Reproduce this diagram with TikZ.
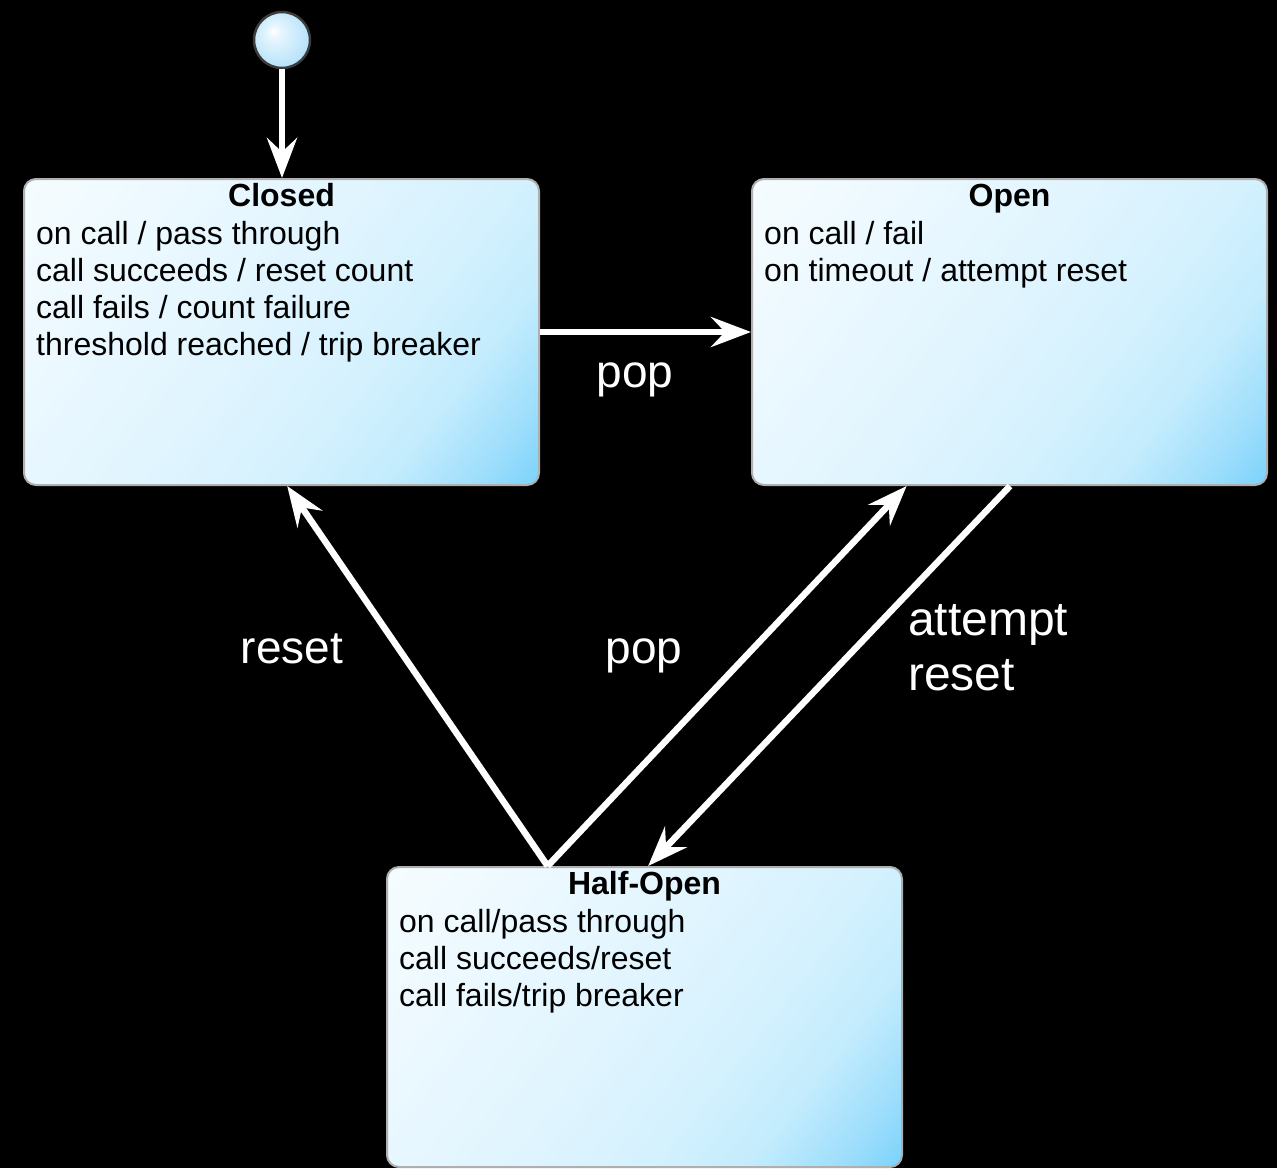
\documentclass[tikz,border=0pt]{standalone}
\usepackage{fontspec}
\setmainfont{Liberation Sans}
\usetikzlibrary{arrows.meta,calc}
\definecolor{boxlight}{RGB}{246,252,255}
\definecolor{boxpale}{RGB}{234,248,255}
\definecolor{boxsoft}{RGB}{222,244,254}
\definecolor{boxmid}{RGB}{212,241,254}
\definecolor{boxrich}{RGB}{195,236,253}
\definecolor{boxstrong}{RGB}{158,222,252}
\definecolor{boxdeep}{RGB}{122,210,251}
\definecolor{boxedge}{RGB}{175,175,175}
\definecolor{dotedge}{RGB}{60,60,60}
\definecolor{dotlight}{RGB}{228,245,254}
\definecolor{dotdeep}{RGB}{178,225,250}
% diagonal fill of the state boxes: pale in the upper left, deep blue in the lower right
\pgfdeclareverticalshading{statefill}{100bp}{
  color(0bp)=(boxdeep); color(14.9bp)=(boxdeep); color(21bp)=(boxstrong);
  color(29.4bp)=(boxrich); color(39.1bp)=(boxmid); color(50bp)=(boxsoft);
  color(67bp)=(boxpale); color(85.1bp)=(boxlight); color(100bp)=(boxlight)}
% glossy fill of the initial pseudo-state, highlight in the upper left
\pgfdeclareradialshading{dotfill}{\pgfpoint{-8bp}{8bp}}{
  color(0bp)=(white); color(7bp)=(dotlight); color(30bp)=(dotdeep);
  color(50bp)=(dotdeep)}
\begin{document}
\begin{tikzpicture}[x=1pt,y=-1pt,
  state/.style={rounded corners=12pt, draw=boxedge, line width=2pt,
    shading=statefill, shading angle=52, minimum width=515pt, inner sep=0pt},
  statetitle/.style={font=\fontsize{32}{37}\selectfont\bfseries, anchor=base, inner sep=0pt},
  statebody/.style={font=\fontsize{32}{37}\selectfont, anchor=base west, inner sep=0pt},
  flowlabel/.style={font=\fontsize{46}{55}\selectfont, text=white, inner sep=0pt},
  flow/.style={draw=white, line width=6.5pt,
    -{Stealth[length=40pt,width=30pt,inset=14pt]}}]
  % canvas
  \fill[black] (0,0) rectangle (1277,1168);
  \useasboundingbox (0,0) rectangle (1277,1168);

  % initial pseudo-state
  \node[circle, minimum size=56pt, inner sep=0pt, draw=dotedge, line width=2.5pt,
        shading=dotfill] (init) at (282,40) {};

  % states
  \node[state, minimum height=306pt] (closed) at (281.5,332) {};
  \node[state, minimum height=306pt] (open) at (1009.5,332) {};
  \node[state, minimum height=300pt] (half) at (644.5,1017) {};

  % Closed texts
  \node[statetitle] (closedT) at ($(closed.north)+(0,28)$) {Closed};
  \node[statebody] (closedA) at ($(closed.north west)+(13,66)$) {on call / pass through};
  \node[statebody] (closedB) at ($(closed.north west)+(13,103)$) {call succeeds / reset count};
  \node[statebody] (closedC) at ($(closed.north west)+(13,140)$) {call fails / count failure};
  \node[statebody] (closedD) at ($(closed.north west)+(13,177)$) {threshold reached / trip breaker};

  % Open texts
  \node[statetitle] (openT) at ($(open.north)+(0,28)$) {Open};
  \node[statebody] (openA) at ($(open.north west)+(13,66)$) {on call / fail};
  \node[statebody] (openB) at ($(open.north west)+(13,103)$) {on timeout / attempt reset};

  % Half-Open texts
  \node[statetitle] (halfT) at ($(half.north)+(0,28)$) {Half-Open};
  \node[statebody] (halfA) at ($(half.north west)+(13,66)$) {on call/pass through};
  \node[statebody] (halfB) at ($(half.north west)+(13,103)$) {call succeeds/reset};
  \node[statebody] (halfC) at ($(half.north west)+(13,140)$) {call fails/trip breaker};

  % anchor points on the box edges
  \coordinate (halfOut) at ($(half.north west)!0.3126!(half.north east)$);
  \coordinate (halfIn) at ($(half.north west)!0.507!(half.north east)$);
  \coordinate (closedIn) at ($(closed.south west)!0.511!(closed.south east)$);
  \coordinate (openIn) at ($(open.south west)!0.301!(open.south east)$);
  \coordinate (openOut) at ($(open.south west)!0.501!(open.south east)$);

  % transitions
  \draw[flow] (init) -- (init |- closed.north);
  \draw[flow] (closed.east) -- (open.west);
  \draw[flow] (halfOut) -- (closedIn);
  \draw[flow] (halfOut) -- (openIn);
  \draw[flow] (openOut) -- (halfIn);

  % transition labels
  \node[flowlabel] (popA) at (635,380) {pop};
  \node[flowlabel] (resetL) at (292,649) {reset};
  \node[flowlabel] (popB) at (644,656) {pop};
  \node[flowlabel, font=\fontsize{48}{55}\selectfont, align=left, anchor=west]
    (attemptL) at (908,648) {attempt\\reset};
\end{tikzpicture}
\end{document}
